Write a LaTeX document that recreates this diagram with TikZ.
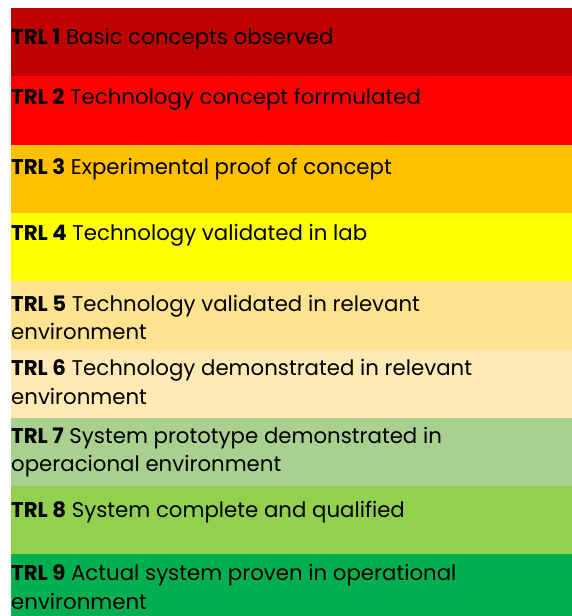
\documentclass[tikz,border=0pt]{standalone}
\usepackage{fontspec}
\setmainfont{Poppins}
\usepackage{tikz}

\definecolor{trlA}{HTML}{C00000}
\definecolor{trlB}{HTML}{FF0000}
\definecolor{trlC}{HTML}{FFC000}
\definecolor{trlD}{HTML}{FFFF00}
\definecolor{trlE}{HTML}{FFE391}
\definecolor{trlF}{HTML}{FFE9B5}
\definecolor{trlG}{HTML}{A9D08E}
\definecolor{trlH}{HTML}{92D050}
\definecolor{trlI}{HTML}{00B050}

\begin{document}
\begin{tikzpicture}[x=1pt,y=-1pt,level/.style={anchor=base west,inner sep=0pt,align=left,font=\fontsize{21.3}{28.5}\selectfont}]
\def\bh{68.3};
\def\xl{10.5};
\def\yt{8};

\useasboundingbox (0,0) rectangle (572,616);
\clip (0,0) rectangle (572,616);

% the nine coloured levels
\foreach \col [count=\i] in {trlA,trlB,trlC,trlD,trlE,trlF,trlG,trlH,trlI}
  \fill[\col] (\xl,{\yt+(\i-1)*\bh}) rectangle (572,{\yt+\i*\bh});

% base anchor sits on the last line of each label
\node[level] (t1) at (11,44.5) {\textbf{TRL 1} Basic concepts observed};
\node[level] (t2) at (11,104) {\textbf{TRL 2} Technology concept forrmulated};
\node[level] (t3) at (11,174) {\textbf{TRL 3} Experimental proof of concept};
\node[level] (t4) at (11,240.5) {\textbf{TRL 4} Technology validated in lab};
\node[level] (t5) at (11,339.5) {\textbf{TRL 5} Technology validated in relevant\\environment};
\node[level] (t6) at (11,404) {\textbf{TRL 6} Technology demonstrated in relevant\\environment};
\node[level] (t7) at (11,471.5) {\textbf{TRL 7} System prototype demonstrated in\\operacional environment};
\node[level] (t8) at (11,517) {\textbf{TRL 8} System complete and qualified};
\node[level] (t9) at (11,609) {\textbf{TRL 9} Actual system proven in operational\\environment};

\end{tikzpicture}
\end{document}
